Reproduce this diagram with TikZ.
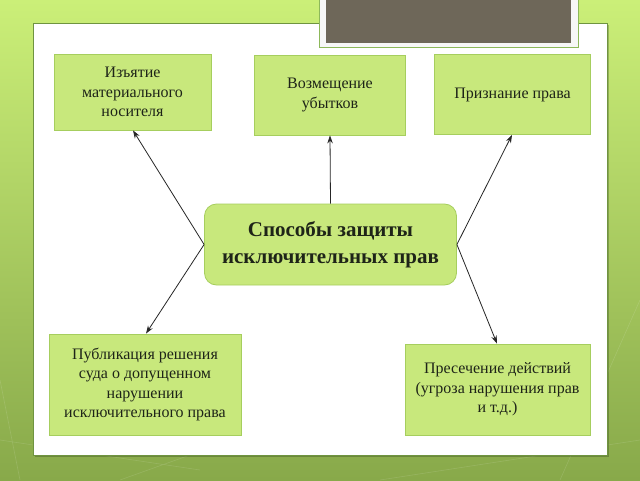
\documentclass[tikz,border=0pt]{standalone}
\usepackage{fontspec}
\setmainfont{Liberation Serif}
\usetikzlibrary{arrows.meta}
\definecolor{bgtop}{HTML}{CBEF78}
\definecolor{bgbot}{HTML}{88A94A}
\definecolor{panelborder}{HTML}{6F9440}
\definecolor{boxfill}{HTML}{C8E87C}
\definecolor{boxborder}{HTML}{A6CE5E}
\definecolor{tabgray}{HTML}{6E6759}
\definecolor{tabborder}{HTML}{8DB85A}
\definecolor{txt}{HTML}{1E2418}
\tikzset{
  leaf/.style={draw=boxborder, line width=0.8pt, fill=boxfill, align=center, inner sep=0pt,
    text=txt, font=\fontsize{16}{19.5}\selectfont},
  hub/.style={draw=boxborder, line width=0.8pt, fill=boxfill, rounded corners=12pt, align=center,
    inner sep=0pt, text=txt, font=\fontsize{21}{27}\selectfont\bfseries},
  link/.style={draw=black!85, line width=0.8pt, -{Stealth[length=8pt,width=5.5pt]}},
  texture/.style={white, opacity=0.12, line width=0.6pt}
}
\begin{document}
\begin{tikzpicture}[x=1pt,y=-1pt]
\useasboundingbox (0,0) rectangle (640,480);
% background
\shade[top color=bgtop, bottom color=bgbot] (0,0) rectangle (640,480);
\draw[texture] (0,440) -- (200,470) (120,480) -- (260,430) (380,480) -- (640,440) (560,480) -- (640,300) (20,480) -- (0,380);
% panel shadow
\fill[black, opacity=0.22] (35,25) rectangle (609,457);
% white panel
\draw[panelborder, line width=1pt, fill=white] (33,23) rectangle (607,455);
% top tab
\draw[tabborder, line width=1pt, fill=white!94!gray] (319,-2) rectangle (578,47);
\fill[tabgray] (326,-2) rectangle (571,43);
% nodes
\node[leaf, minimum width=157pt, minimum height=76pt] (a) at (132.5,92) {Изъятие\\материального\\носителя};
\node[leaf, minimum width=151pt, minimum height=80pt] (b) at (330,95) {Возмещение\\убытков};
\node[leaf, minimum width=156pt, minimum height=80pt] (c) at (512.5,94.5) {Признание права};
\node[hub, minimum width=252pt, minimum height=81pt] (h) at (330.5,244.5) {Способы защиты\\исключительных прав};
\node[leaf, minimum width=192pt, minimum height=101pt] (d) at (145,384.5) {Публикация решения\\суда о допущенном\\нарушении\\исключительного права};
\node[leaf, minimum width=185pt, minimum height=91pt] (e) at (497.5,389.5) {Пресечение действий\\(угроза нарушения прав\\и т.д.)};
% connectors
\coordinate (hl) at (h.west);
\coordinate (hr) at (h.east);
\draw[link] (hl) -- (a.south -| 133,0);
\draw[link] (hl) -- (d.north -| 146,0);
\draw[link] (h.north) -- (b.south);
\draw[link] (hr) -- (c.south -| 512,0);
\draw[link] (hr) -- (e.north -| 497,0);
\end{tikzpicture}
\end{document}
